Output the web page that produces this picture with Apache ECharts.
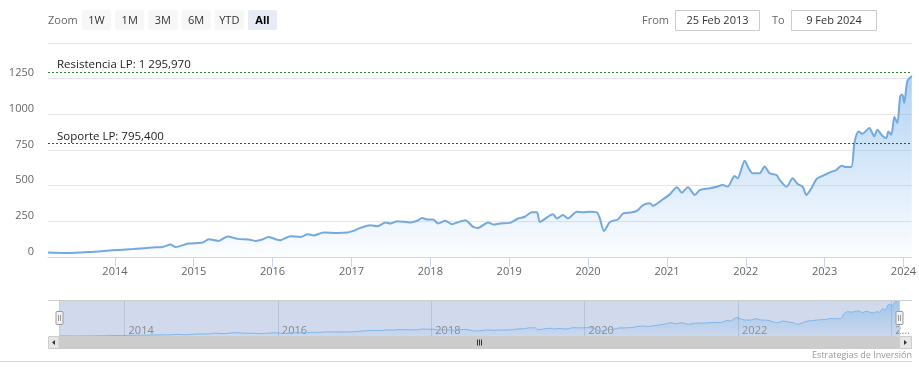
<!DOCTYPE html>
<html><head><meta charset="utf-8">
<script src="https://cdn.jsdelivr.net/npm/echarts@6/dist/echarts.min.js"></script>
<style>html,body{margin:0;padding:0;background:#fff}#c{width:919px;height:379px}</style>
</head><body><div id="c"></div>
<script>
const dates = ['2013-02-25','2013-05-19','2013-09-02','2013-12-22','2014-03-25','2014-07-08','2014-08-10','2014-09-16','2014-10-09','2014-12-08',
'2015-02-11','2015-03-11','2015-04-26','2015-06-07','2015-07-23','2015-09-12','2015-10-14','2015-11-15','2015-12-13',
'2016-01-14','2016-02-06','2016-03-24','2016-05-10','2016-06-12','2016-07-09','2016-08-24','2016-10-28','2016-12-13',
'2017-01-10','2017-02-11','2017-03-29','2017-05-01','2017-06-07','2017-06-29','2017-08-01','2017-09-30','2017-11-01','2017-11-24','2017-12-17',
'2018-01-14','2018-02-06','2018-03-11','2018-04-12','2018-05-05','2018-06-12','2018-07-18','2018-08-10','2018-09-25','2018-10-19','2018-11-20',
'2019-01-05','2019-02-11','2019-03-15','2019-04-16','2019-05-10','2019-05-23','2019-06-29','2019-07-23','2019-08-10','2019-09-07','2019-09-30','2019-11-10','2019-12-08',
'2020-01-10','2020-02-11','2020-02-25','2020-03-15','2020-04-12','2020-05-19','2020-06-12','2020-07-23','2020-08-19','2020-09-12','2020-10-14','2020-10-28','2020-12-08',
'2021-01-14','2021-02-16','2021-03-11','2021-04-08','2021-05-10','2021-06-02','2021-07-18','2021-08-19','2021-09-16','2021-10-09','2021-11-10','2021-11-24','2021-12-27',
'2022-01-14','2022-02-02','2022-03-06','2022-03-29','2022-04-21','2022-05-23','2022-06-07','2022-07-09','2022-08-06','2022-08-29','2022-09-21','2022-10-09','2022-11-01','2022-11-24','2022-12-22',
'2023-01-23','2023-02-25','2023-03-20','2023-04-12','2023-05-05','2023-05-19','2023-06-07','2023-06-25','2023-07-27','2023-08-19','2023-09-02','2023-09-25','2023-10-14','2023-10-23','2023-11-06','2023-11-20','2023-12-04','2023-12-17','2023-12-27',
'2024-01-05','2024-01-19','2024-02-09'];
const values = [31,28,35,47,56,68,70,87,70,94,
101,125,113,144,127,123,113,123,141,
125,118,146,141,160,151,172,169,172,
183,204,223,216,242,235,251,242,254,273,263,
263,235,254,230,242,258,211,204,242,228,235,
239,270,282,313,313,246,282,299,270,294,270,317,313,
317,313,270,183,246,263,306,313,329,364,376,359,399,
439,489,451,489,435,470,482,493,505,493,568,552,674,
623,587,587,634,587,575,540,493,552,512,493,435,482,545,568,
592,611,639,630,630,799,880,864,904,845,892,850,834,880,857,982,939,1127,1139,
1080,1232,1268];
const navigatorTickDates = ['2014-01-01','2016-01-01','2018-01-01','2020-01-01','2022-01-01','2024-01-01'];
const navigatorTickYears = [2014, 2016, 2018, 2020, 2022, 2024];
const rangeButtons = ['1W','1M','3M','6M','YTD','All'];
const selectedButton = 'All';
const fromText = '25 Feb 2013';
const toText = '9 Feb 2024';
const resistanceValue = 1295.97;
const supportValue = 795.4;
const resistanceLabel = 'Resistencia LP: 1 295,970';
const supportLabel = 'Soporte LP: 795,400';
const creditsText = 'Estrategias de Inversión';
const yMin = 0, yMax = 1500, yStep = 250;

const FONT = "'Open Sans', sans-serif";
const seriesData = dates.map((d, i) => [d, values[i]]);
const chart = echarts.init(document.getElementById('c'), null, {renderer: 'canvas'});

function txt(text, x, y, opts) {
  opts = opts || {};
  return {type: 'text', z: 100, style: Object.assign({
    text: text, x: x, y: y, fill: opts.fill || '#666',
    font: (opts.weight || 'normal') + ' ' + (opts.size || 11) + 'px ' + FONT,
    align: opts.align || 'left', verticalAlign: 'middle',
    textAlign: opts.align || 'left', textVerticalAlign: 'middle'
  })};
}
const graphics = [];
graphics.push(txt('Zoom', 48, 21, {fill: '#666'}));
rangeButtons.forEach((b, i) => {
  const x = 82 + i * 33.2;
  const sel = b === selectedButton;
  graphics.push({type: 'rect', z: 100, shape: {x: x, y: 10, width: 29, height: 20, r: 2}, style: {fill: sel ? '#e6ebf5' : '#f7f7f7'}});
  graphics.push(txt(b, x + 14.5, 20.5, {fill: sel ? '#000' : '#333', align: 'center', weight: sel ? 'bold' : 'normal'}));
});
graphics.push(txt('From', 642, 21, {fill: '#666'}));
graphics.push({type: 'rect', z: 100, shape: {x: 675.5, y: 10.5, width: 84, height: 20}, style: {fill: '#fff', stroke: '#cccccc', lineWidth: 1}});
graphics.push(txt(fromText, 717.5, 20.5, {fill: '#333', align: 'center'}));
graphics.push(txt('To', 772, 21, {fill: '#666'}));
graphics.push({type: 'rect', z: 100, shape: {x: 791.5, y: 10.5, width: 85, height: 20}, style: {fill: '#fff', stroke: '#cccccc', lineWidth: 1}});
graphics.push(txt(toText, 834, 20.5, {fill: '#333', align: 'center'}));
// navigator outline
graphics.push({type: 'line', z: 100, shape: {x1: 48, y1: 300.5, x2: 912, y2: 300.5}, style: {stroke: '#cccccc', lineWidth: 1}});
graphics.push({type: 'line', z: 100, shape: {x1: 59.5, y1: 300, x2: 59.5, y2: 336}, style: {stroke: '#cccccc', lineWidth: 1}});
graphics.push({type: 'line', z: 100, shape: {x1: 899.5, y1: 300, x2: 899.5, y2: 336}, style: {stroke: '#cccccc', lineWidth: 1}});
// handles
[59.5, 899.5].forEach(cx => {
  graphics.push({type: 'rect', z: 101, shape: {x: cx - 3.5, y: 311.5, width: 7, height: 13, r: 1}, style: {fill: '#f2f2f2', stroke: '#999999', lineWidth: 1}});
  graphics.push({type: 'line', z: 102, shape: {x1: cx - 1, y1: 315, x2: cx - 1, y2: 321}, style: {stroke: '#999999', lineWidth: 1}});
  graphics.push({type: 'line', z: 102, shape: {x1: cx + 1, y1: 315, x2: cx + 1, y2: 321}, style: {stroke: '#999999', lineWidth: 1}});
});
// scrollbar
graphics.push({type: 'rect', z: 100, shape: {x: 59, y: 336, width: 840, height: 13}, style: {fill: '#cccccc'}});
graphics.push({type: 'rect', z: 100, shape: {x: 48.5, y: 336.5, width: 10.5, height: 12}, style: {fill: '#e6e6e6', stroke: '#cccccc', lineWidth: 1}});
graphics.push({type: 'rect', z: 100, shape: {x: 899.5, y: 336.5, width: 12, height: 12}, style: {fill: '#e6e6e6', stroke: '#cccccc', lineWidth: 1}});
graphics.push({type: 'polygon', z: 101, shape: {points: [[52, 342.5], [55, 340], [55, 345]]}, style: {fill: '#333'}});
graphics.push({type: 'polygon', z: 101, shape: {points: [[907, 342.5], [904, 340], [904, 345]]}, style: {fill: '#333'}});
[-2, 0, 2].forEach(d => {
  graphics.push({type: 'line', z: 101, shape: {x1: 479.5 + d, y1: 339.5, x2: 479.5 + d, y2: 345.5}, style: {stroke: '#333', lineWidth: 1}});
});
graphics.push(txt(creditsText, 912, 355, {fill: '#999', size: 9, align: 'right'}));
graphics.push({type: 'line', z: 100, shape: {x1: 0, y1: 361.5, x2: 912, y2: 361.5}, style: {stroke: '#d8d8d8', lineWidth: 1}});

const areaGrad = new echarts.graphic.LinearGradient(0, 0, 0, 1, [
  {offset: 0, color: 'rgba(124,181,236,0.85)'},
  {offset: 1, color: 'rgba(124,181,236,0.03)'}
]);
const navGrad = new echarts.graphic.LinearGradient(0, 0, 0, 1, [
  {offset: 0, color: 'rgba(124,181,236,0.8)'},
  {offset: 1, color: 'rgba(124,181,236,0.1)'}
]);

const option = {
  animation: false,
  textStyle: {fontFamily: FONT},
  grid: [
    {left: 48, top: 43, width: 865, height: 214},
    {left: 59.5, top: 300.5, width: 840, height: 35.5, show: true, backgroundColor: 'rgba(102,133,194,0.3)', borderWidth: 0}
  ],
  xAxis: [
    {type: 'time', gridIndex: 0, min: dates[0], max: dates[dates.length - 1], splitNumber: 11,
     axisLine: {lineStyle: {color: '#ccd6eb'}},
     axisTick: {show: true, length: 10, lineStyle: {color: '#ccd6eb'}},
     splitLine: {show: false},
     axisLabel: {color: '#666', fontSize: 11, fontFamily: FONT, margin: 9, showMinLabel: false, showMaxLabel: false,
       formatter: v => String(new Date(v).getFullYear())}},
    {type: 'time', gridIndex: 1, min: dates[0], max: dates[dates.length - 1], splitNumber: 11,
     axisLine: {show: false}, axisTick: {show: false},
     splitLine: {show: false},
     axisLabel: {inside: true, color: '#888', fontSize: 11, fontFamily: FONT, margin: 0, align: 'left', padding: [0, 0, 0, 4],
       showMinLabel: false, showMaxLabel: false,
       formatter: v => { const y = new Date(v).getFullYear(); const k = navigatorTickYears.indexOf(y); if (k < 0) return ''; return y === 2024 ? '2…' : String(y); }}}
  ],
  yAxis: [
    {type: 'value', gridIndex: 0, min: yMin, max: yMax, interval: yStep,
     axisLine: {show: false}, axisTick: {show: false},
     splitLine: {lineStyle: {color: '#e6e6e6'}},
     axisLabel: {color: '#666', fontSize: 11, fontFamily: FONT, margin: 14, verticalAlign: 'bottom', lineHeight: 11,
       formatter: v => v === yMax ? '' : String(v)}},
    {type: 'value', gridIndex: 1, min: 'dataMin', max: 'dataMax', show: false}
  ],
  series: [
    {type: 'line', xAxisIndex: 0, yAxisIndex: 0, data: seriesData, showSymbol: false, smooth: 0.25,
     lineStyle: {color: '#74a9de', width: 2}, areaStyle: {color: areaGrad},
     markLine: {silent: true, symbol: 'none', animation: false,
       data: [
         {yAxis: resistanceValue, lineStyle: {color: '#2a8a2a', type: [2, 2], width: 1},
          label: {formatter: resistanceLabel}},
         {yAxis: supportValue, lineStyle: {color: '#a8202a', type: [2, 2], width: 1},
          label: {formatter: supportLabel}}
       ],
       label: {show: true, position: 'insideStartTop', distance: [9, 1], color: '#222', fontSize: 11.5, fontFamily: FONT}}},
    {type: 'line', xAxisIndex: 1, yAxisIndex: 1, data: seriesData, showSymbol: false, smooth: 0.25, silent: true,
     lineStyle: {color: '#7cb5ec', width: 1}, areaStyle: {color: navGrad},
     markLine: {silent: true, symbol: 'none', animation: false, label: {show: false},
       lineStyle: {color: 'rgba(80,100,140,0.2)', type: 'solid', width: 1},
       data: navigatorTickDates.map(d => ({xAxis: d}))}}
  ],
  graphic: {elements: graphics}
};
chart.setOption(option);
</script></body></html>
